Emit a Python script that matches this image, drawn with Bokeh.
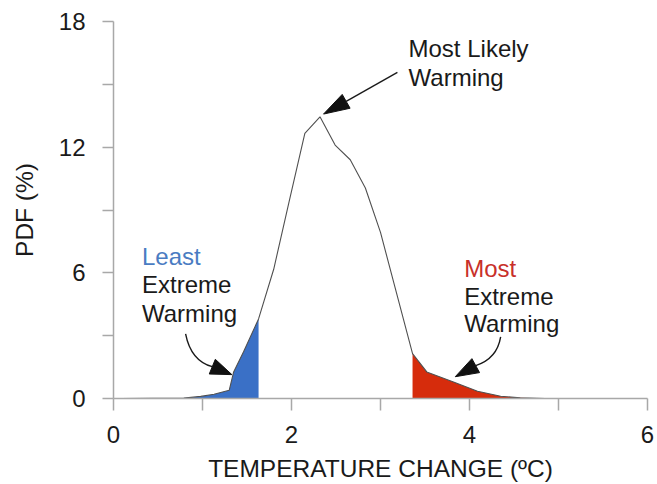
import math
from bokeh.plotting import figure
from bokeh.models import FixedTicker, Range1d
from bokeh.core.properties import value
from bokeh.embed import file_html
from bokeh.resources import INLINE

# ---- data ----
temperature = [0.08, 0.79, 0.98, 1.13, 1.30, 1.35, 1.46, 1.63, 1.80, 1.97, 2.15, 2.32,
               2.49, 2.66, 2.83, 3.00, 3.36, 3.52, 3.82, 4.09, 4.35, 4.57, 4.85]
pdf_percent = [0.0, 0.02, 0.10, 0.20, 0.39, 1.27, 2.22, 3.80, 6.17, 9.34, 12.66, 13.45,
               12.10, 11.40, 10.05, 7.93, 2.14, 1.27, 0.79, 0.35, 0.11, 0.03, 0.0]
least_cut = 1.63
most_cut = 3.36
x_ticks = [0, 2, 4, 6]
x_minor = [1, 3, 5]
y_ticks = [0, 6, 12, 18]
y_minor = [3, 9, 15]

FONT = "Liberation Sans"
AXIS_GRAY = "#a8a8a8"
TXT = "#1a1a1a"
BLUE_FILL = "#3a70c6"
RED_FILL = "#d62c0c"

W, H = 657, 484
BL, BR, BT, BB = 113, 10, 21, 84
PX_X = (W - BL - BR) / 6.0
PX_Y = (H - BT - BB) / 18.0

p = figure(width=W, height=H, x_range=Range1d(0, 6), y_range=Range1d(0, 18),
           output_backend="svg", toolbar_location=None,
           min_border_left=BL, min_border_right=BR, min_border_top=BT, min_border_bottom=BB)
p.outline_line_color = None
p.xgrid.visible = False
p.ygrid.visible = False
p.background_fill_color = "white"
p.border_fill_color = "white"

# fills
lx = [t for t in temperature if t <= least_cut]
ly = [v for t, v in zip(temperature, pdf_percent) if t <= least_cut]
rx = [t for t in temperature if t >= most_cut]
ry = [v for t, v in zip(temperature, pdf_percent) if t >= most_cut]
p.varea(x=lx, y1=[0] * len(lx), y2=ly, fill_color=BLUE_FILL)
p.varea(x=rx, y1=[0] * len(rx), y2=ry, fill_color=RED_FILL)
p.line(temperature, pdf_percent, line_color="#505050", line_width=1.1)

# axes
for ax, ticks, minor in ((p.xaxis, x_ticks, x_minor), (p.yaxis, y_ticks, y_minor)):
    ax.ticker = FixedTicker(ticks=ticks, minor_ticks=minor)
    ax.axis_line_color = AXIS_GRAY
    ax.axis_line_width = 1.5
    ax.major_tick_line_color = AXIS_GRAY
    ax.minor_tick_line_color = AXIS_GRAY
    ax.major_tick_line_width = 1.5
    ax.minor_tick_line_width = 1.5
    ax.major_tick_in = 0
    ax.minor_tick_in = 0
    ax.major_label_text_font = FONT
    ax.major_label_text_font_size = "24px"
    ax.major_label_text_color = TXT
    ax.axis_label_text_font = FONT
    ax.axis_label_text_font_size = "24.5px"
    ax.axis_label_text_font_style = "normal"
    ax.axis_label_text_color = TXT

p.xaxis.major_tick_out = 12
p.xaxis.minor_tick_out = 12
p.xaxis.major_label_standoff = 15
p.xaxis.axis_label_standoff = 9
p.xaxis.axis_label = "TEMPERATURE CHANGE (ºC)"

p.yaxis.major_tick_out = 11
p.yaxis.minor_tick_out = 11
p.yaxis.major_label_standoff = 17
p.yaxis.axis_label_standoff = 18
p.yaxis.axis_label = "PDF (%)"

# annotation texts
def label(x, y, txt, color):
    p.text(x=[x], y=[y], text=[txt], text_font=value(FONT), text_font_size="24px",
           text_color=color, text_align="left", text_baseline="alphabetic")

label(3.315, 16.71, "Most Likely", TXT)
label(3.315, 15.34, "Warming", TXT)
label(0.32, 6.79, "Least", "#4a7cc2")
label(0.32, 5.46, "Extreme", TXT)
label(0.32, 4.06, "Warming", TXT)
label(3.94, 6.22, "Most", "#c8302a")
label(3.94, 4.87, "Extreme", TXT)
label(3.94, 3.56, "Warming", TXT)

# arrowheads built in pixel space
def head(tip, base, half_w=8.0):
    tx, ty = tip[0] * PX_X, tip[1] * PX_Y
    bx, by = base[0] * PX_X, base[1] * PX_Y
    dx, dy = tx - bx, ty - by
    L = math.hypot(dx, dy)
    nx, ny = -dy / L, dx / L
    xs = [tx, bx + nx * half_w, bx - nx * half_w]
    ys = [ty, by + ny * half_w, by - ny * half_w]
    p.patch([x / PX_X for x in xs], [y / PX_Y for y in ys],
            fill_color="#111111", line_color="#111111", line_width=1)

def point_back(tip, start, dist_px):
    tx, ty = tip[0] * PX_X, tip[1] * PX_Y
    sx, sy = start[0] * PX_X, start[1] * PX_Y
    L = math.hypot(sx - tx, sy - ty)
    return ((tx + (sx - tx) * dist_px / L) / PX_X, (ty + (sy - ty) * dist_px / L) / PX_Y)

ARROW = "#1a1a1a"
# most likely arrow (straight)
start, tip = (3.19, 15.57), (2.36, 13.58)
base = point_back(tip, start, 26)
p.line([start[0], base[0]], [start[1], base[1]], line_color=ARROW, line_width=1.4)
head(tip, base)

# least extreme arrow (curved)
p.quadratic(x0=[0.81], y0=[3.09], x1=[1.11], y1=[1.52], cx=[0.87], cy=[1.80],
            line_color=ARROW, line_width=1.4)
head((1.33, 1.14), (1.11, 1.52))

# most extreme arrow (curved)
p.quadratic(x0=[4.35], y0=[2.94], x1=[4.07], y1=[1.57], cx=[4.31], cy=[1.90],
            line_color=ARROW, line_width=1.4)
head((3.84, 1.04), (4.07, 1.57))

open("out.html", "w").write(file_html(p, INLINE))
